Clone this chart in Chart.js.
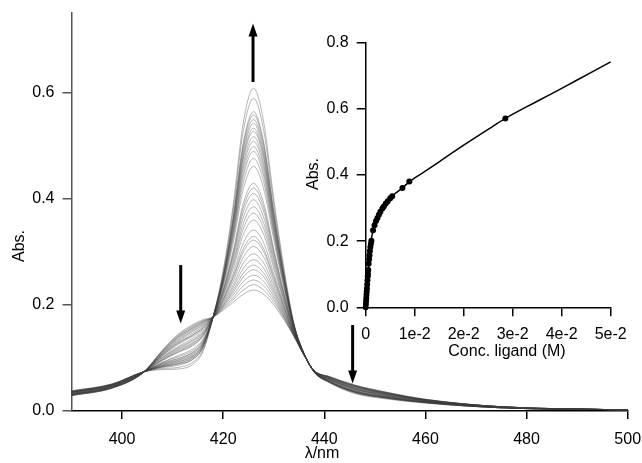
<!DOCTYPE html>
<html><head><meta charset="utf-8">
<script src="https://cdn.jsdelivr.net/npm/chart.js@4"></script>
<style>
html,body{margin:0;padding:0;background:#fff;}
#wrap{position:relative;width:642px;height:463px;}
canvas{position:absolute;left:0;top:0;}
</style>
</head><body>
<div id="wrap"><canvas id="main" width="642" height="463"></canvas><canvas id="inset" width="642" height="463"></canvas></div>
<script>
// ---- main spectra data ----
const wavelengths = [390, 398, 404, 408, 411, 414, 416, 418, 420, 422, 424, 426, 428, 430, 432, 434, 436, 438, 441, 446, 452, 460, 475, 500];
const spectra = [
[0.029,0.043,0.071,0.115,0.144,0.163,0.172,0.177,0.190,0.205,0.220,0.228,0.220,0.200,0.172,0.140,0.105,0.076,0.065,0.049,0.036,0.022,0.008,0.002],
[0.029,0.043,0.071,0.114,0.142,0.161,0.170,0.177,0.192,0.210,0.228,0.238,0.228,0.205,0.175,0.141,0.105,0.076,0.065,0.049,0.036,0.022,0.008,0.002],
[0.029,0.043,0.071,0.113,0.141,0.159,0.169,0.177,0.194,0.214,0.236,0.247,0.236,0.210,0.177,0.141,0.105,0.076,0.064,0.048,0.035,0.022,0.008,0.002],
[0.030,0.044,0.071,0.112,0.139,0.157,0.168,0.177,0.196,0.219,0.244,0.256,0.244,0.215,0.179,0.142,0.105,0.076,0.064,0.048,0.035,0.021,0.008,0.002],
[0.030,0.044,0.071,0.111,0.138,0.156,0.166,0.177,0.198,0.224,0.253,0.266,0.253,0.220,0.182,0.143,0.105,0.076,0.064,0.047,0.035,0.021,0.008,0.002],
[0.030,0.044,0.071,0.110,0.136,0.154,0.165,0.177,0.199,0.228,0.260,0.275,0.260,0.225,0.184,0.143,0.105,0.076,0.064,0.047,0.034,0.021,0.008,0.002],
[0.030,0.044,0.071,0.109,0.134,0.152,0.163,0.177,0.201,0.233,0.269,0.285,0.269,0.230,0.187,0.144,0.105,0.076,0.063,0.047,0.034,0.021,0.008,0.002],
[0.031,0.044,0.071,0.108,0.132,0.150,0.161,0.177,0.204,0.238,0.279,0.296,0.279,0.236,0.190,0.145,0.106,0.076,0.063,0.046,0.034,0.021,0.008,0.002],
[0.031,0.045,0.071,0.107,0.130,0.147,0.159,0.177,0.206,0.245,0.290,0.310,0.290,0.243,0.193,0.145,0.106,0.075,0.062,0.046,0.033,0.021,0.008,0.002],
[0.031,0.045,0.072,0.106,0.128,0.144,0.157,0.177,0.209,0.251,0.300,0.322,0.300,0.249,0.196,0.146,0.106,0.075,0.062,0.045,0.033,0.020,0.008,0.002],
[0.031,0.045,0.072,0.105,0.127,0.143,0.156,0.177,0.210,0.254,0.306,0.329,0.306,0.253,0.198,0.147,0.106,0.075,0.062,0.045,0.033,0.020,0.008,0.002],
[0.032,0.045,0.072,0.104,0.125,0.141,0.154,0.177,0.212,0.260,0.317,0.341,0.317,0.259,0.201,0.147,0.106,0.075,0.061,0.044,0.032,0.020,0.007,0.002],
[0.032,0.046,0.072,0.102,0.121,0.137,0.151,0.177,0.216,0.269,0.333,0.360,0.333,0.269,0.206,0.149,0.106,0.075,0.061,0.043,0.032,0.020,0.007,0.002],
[0.032,0.046,0.072,0.101,0.119,0.134,0.149,0.177,0.219,0.276,0.344,0.373,0.344,0.276,0.209,0.150,0.106,0.075,0.060,0.043,0.031,0.019,0.007,0.002],
[0.033,0.046,0.072,0.100,0.117,0.132,0.147,0.177,0.221,0.281,0.354,0.385,0.354,0.283,0.212,0.150,0.106,0.075,0.060,0.042,0.031,0.019,0.007,0.002],
[0.033,0.047,0.072,0.098,0.115,0.129,0.145,0.177,0.224,0.288,0.365,0.398,0.365,0.289,0.216,0.151,0.106,0.075,0.060,0.042,0.030,0.019,0.007,0.002],
[0.033,0.047,0.072,0.097,0.113,0.127,0.143,0.177,0.226,0.294,0.376,0.410,0.376,0.296,0.219,0.152,0.106,0.075,0.059,0.041,0.030,0.019,0.007,0.002],
[0.034,0.047,0.072,0.096,0.111,0.125,0.142,0.177,0.228,0.298,0.384,0.420,0.384,0.301,0.221,0.153,0.107,0.075,0.059,0.041,0.029,0.019,0.007,0.002],
[0.034,0.047,0.072,0.095,0.110,0.123,0.140,0.177,0.230,0.303,0.392,0.429,0.392,0.306,0.224,0.153,0.107,0.074,0.059,0.041,0.029,0.018,0.007,0.002],
[0.035,0.048,0.072,0.092,0.104,0.117,0.135,0.177,0.236,0.318,0.419,0.461,0.419,0.323,0.232,0.155,0.107,0.074,0.058,0.039,0.028,0.018,0.007,0.002],
[0.035,0.048,0.072,0.091,0.102,0.114,0.133,0.177,0.239,0.326,0.432,0.476,0.432,0.331,0.236,0.156,0.107,0.074,0.057,0.039,0.028,0.017,0.007,0.002],
[0.035,0.049,0.072,0.090,0.099,0.111,0.131,0.177,0.242,0.332,0.443,0.489,0.443,0.337,0.239,0.157,0.107,0.074,0.057,0.038,0.027,0.017,0.007,0.002],
[0.035,0.049,0.072,0.089,0.098,0.110,0.129,0.177,0.243,0.337,0.451,0.498,0.451,0.342,0.242,0.158,0.107,0.074,0.056,0.038,0.027,0.017,0.007,0.002],
[0.036,0.049,0.073,0.088,0.096,0.108,0.128,0.177,0.245,0.341,0.460,0.508,0.460,0.347,0.244,0.158,0.107,0.074,0.056,0.037,0.026,0.017,0.007,0.002],
[0.036,0.049,0.073,0.087,0.095,0.106,0.126,0.177,0.247,0.346,0.467,0.517,0.467,0.352,0.247,0.159,0.107,0.074,0.056,0.037,0.026,0.017,0.007,0.002],
[0.036,0.049,0.073,0.086,0.093,0.104,0.125,0.177,0.249,0.351,0.476,0.527,0.476,0.357,0.249,0.160,0.107,0.074,0.056,0.036,0.026,0.017,0.006,0.002],
[0.036,0.049,0.073,0.085,0.092,0.103,0.124,0.177,0.250,0.354,0.481,0.533,0.481,0.361,0.251,0.160,0.107,0.074,0.055,0.036,0.026,0.016,0.006,0.002],
[0.036,0.050,0.073,0.084,0.090,0.101,0.122,0.177,0.252,0.358,0.488,0.542,0.488,0.365,0.253,0.161,0.108,0.074,0.055,0.036,0.025,0.016,0.006,0.002],
[0.037,0.050,0.073,0.084,0.089,0.100,0.121,0.177,0.253,0.361,0.495,0.549,0.495,0.369,0.255,0.161,0.108,0.074,0.055,0.036,0.025,0.016,0.006,0.002],
[0.037,0.050,0.073,0.083,0.088,0.098,0.120,0.177,0.255,0.366,0.502,0.558,0.502,0.374,0.257,0.162,0.108,0.073,0.055,0.035,0.025,0.016,0.006,0.002],
[0.037,0.050,0.073,0.082,0.086,0.097,0.119,0.177,0.257,0.369,0.507,0.564,0.507,0.377,0.259,0.162,0.108,0.073,0.054,0.035,0.025,0.016,0.006,0.002],
[0.038,0.051,0.073,0.080,0.082,0.092,0.115,0.177,0.261,0.381,0.529,0.589,0.529,0.390,0.265,0.164,0.108,0.073,0.054,0.034,0.024,0.015,0.006,0.002],
[0.038,0.051,0.073,0.078,0.079,0.088,0.112,0.177,0.265,0.390,0.545,0.608,0.545,0.400,0.270,0.165,0.108,0.073,0.053,0.033,0.023,0.015,0.006,0.002]
];
const mainXTicks = [400, 420, 440, 460, 480, 500];
const mainYTicks = [0.0, 0.2, 0.4, 0.6];
// arrows: wavelength, from Abs, to Abs
const arrowWave = [425.9, 411.6, 445.6];
const arrowFrom = [0.62, 0.275, 0.162];
const arrowTo   = [0.73, 0.165, 0.052];

// ---- inset titration data ----
const concLigand = [0, 0.00004, 0.00008, 0.00012, 0.00016, 0.0002, 0.00025, 0.0003, 0.00036, 0.00042, 0.00046, 0.00052, 0.0006, 0.0007, 0.00078, 0.00086, 0.00096, 0.00106, 0.00116, 0.0015, 0.0018, 0.0021, 0.0024, 0.0027, 0.003, 0.0034, 0.0037, 0.0041, 0.0045, 0.005, 0.0054, 0.0075, 0.0089, 0.0285];
const deltaAbs = [0, 0.010, 0.019, 0.028, 0.038, 0.047, 0.057, 0.069, 0.082, 0.094, 0.101, 0.113, 0.132, 0.145, 0.157, 0.170, 0.182, 0.192, 0.201, 0.233, 0.248, 0.261, 0.270, 0.280, 0.289, 0.299, 0.305, 0.314, 0.321, 0.330, 0.336, 0.361, 0.380, 0.571];
const fitConc = [0, 0.0002, 0.0005, 0.001, 0.0015, 0.002, 0.003, 0.004, 0.005, 0.006, 0.0075, 0.009, 0.012, 0.015, 0.02, 0.025, 0.0285, 0.035, 0.04, 0.045, 0.05];
const fitAbs = [0, 0.047, 0.105, 0.19, 0.233, 0.256, 0.289, 0.312, 0.330, 0.344, 0.361, 0.381, 0.410, 0.440, 0.490, 0.538, 0.571, 0.623, 0.662, 0.702, 0.742];
const insetXTicks = [0, 0.01, 0.02, 0.03, 0.04, 0.05];
const insetXLabels = ["0", "1e-2", "2e-2", "3e-2", "4e-2", "5e-2"];
const insetYTicks = [0.0, 0.2, 0.4, 0.6, 0.8];

const FONT = "'Liberation Sans', Arial, sans-serif";
Chart.defaults.font.family = FONT;
Chart.defaults.font.size = 16;
Chart.defaults.color = '#000';

function setTicks(vals){ return function(s){ s.ticks = vals.map(v => ({value: v})); }; }
function fixSize(prop, val){ return function(s){ s[prop] = val; s.paddingLeft = 0; s.paddingRight = 0; s.paddingTop = 0; s.paddingBottom = 0; }; }

function titlesPlugin(id, items){
  return { id: id, afterDraw(chart){
    const ctx = chart.ctx; ctx.save();
    ctx.fillStyle = '#000'; ctx.font = '16px ' + FONT;
    ctx.textAlign = 'center'; ctx.textBaseline = 'middle';
    items.forEach(it => {
      ctx.save(); ctx.translate(it.x, it.y); if (it.rot) ctx.rotate(it.rot);
      ctx.fillText(it.text, 0, 0); ctx.restore();
    });
    ctx.restore();
  }};
}

const arrowPlugin = { id: 'arrows', afterDatasetsDraw(chart){
  const ctx = chart.ctx, xs = chart.scales.x, ys = chart.scales.y;
  ctx.save(); ctx.strokeStyle = '#000'; ctx.fillStyle = '#000'; ctx.lineWidth = 3;
  arrowWave.forEach((w, i) => {
    const x = xs.getPixelForValue(w);
    const y0 = ys.getPixelForValue(arrowFrom[i]);
    const y1 = ys.getPixelForValue(arrowTo[i]);
    const dir = y1 < y0 ? -1 : 1;
    ctx.beginPath(); ctx.moveTo(x, y0); ctx.lineTo(x, y1 - dir * 9); ctx.stroke();
    ctx.beginPath(); ctx.moveTo(x, y1); ctx.lineTo(x - 4.5, y1 - dir * 13); ctx.lineTo(x + 4.5, y1 - dir * 13); ctx.closePath(); ctx.fill();
  });
  ctx.restore();
}};

new Chart(document.getElementById('main'), {
  type: 'line',
  data: { datasets: spectra.map(s => ({
    data: wavelengths.map((w, i) => ({x: w, y: s[i]})),
    borderColor: 'rgba(60,60,60,0.5)', borderWidth: 0.75, pointRadius: 0,
    cubicInterpolationMode: 'monotone', fill: false
  })) },
  options: {
    responsive: false, animation: false, events: [],
    layout: { autoPadding: false, padding: { left: 0, right: 14.3, top: 13, bottom: 0 } },
    plugins: { legend: { display: false }, tooltip: { enabled: false } },
    scales: {
      x: { type: 'linear', min: 390, max: 500, afterBuildTicks: setTicks(mainXTicks),
        afterFit: fixSize('height', 52),
        grid: { display: true, drawOnChartArea: false, drawTicks: true, tickLength: 8, color: '#000', lineWidth: 1.5 },
        border: { display: true, color: '#000', width: 1.5 },
        ticks: { padding: 11, callback: v => String(v), maxRotation: 0 } },
      y: { type: 'linear', min: 0, max: 0.75, afterBuildTicks: setTicks(mainYTicks),
        afterFit: fixSize('width', 71.5),
        grid: { display: true, drawOnChartArea: false, drawTicks: true, tickLength: 9, color: '#555', lineWidth: 1.5 },
        border: { display: true, color: '#555', width: 1.5 },
        ticks: { padding: 8, callback: v => v.toFixed(1) } }
    }
  },
  plugins: [arrowPlugin, titlesPlugin('mainTitles', [
    { text: 'Abs.', x: 20, y: 246, rot: -Math.PI / 2 },
    { text: 'λ/nm', x: 322, y: 454 }
  ])]
});

new Chart(document.getElementById('inset'), {
  type: 'scatter',
  data: { datasets: [
    { data: fitConc.map((c, i) => ({x: c, y: fitAbs[i]})), showLine: true, borderColor: '#000', borderWidth: 1.5,
      pointRadius: 0, cubicInterpolationMode: 'monotone', clip: false },
    { data: concLigand.map((c, i) => ({x: c, y: deltaAbs[i]})), showLine: false, pointRadius: 3,
      pointBackgroundColor: '#000', pointBorderColor: '#000', pointBorderWidth: 0, clip: false }
  ] },
  options: {
    responsive: false, animation: false, events: [],
    layout: { autoPadding: false, padding: { left: 315.7, right: 31.3, top: 42.7, bottom: 115.7 } },
    plugins: { legend: { display: false }, tooltip: { enabled: false } },
    scales: {
      x: { type: 'linear', min: 0, max: 0.05, afterBuildTicks: setTicks(insetXTicks),
        afterFit: fixSize('height', 40),
        grid: { display: true, drawOnChartArea: false, drawTicks: true, tickLength: 9, color: '#000', lineWidth: 1.5 },
        border: { display: true, color: '#000', width: 1.5 },
        ticks: { padding: 9, maxRotation: 0, callback: (v) => insetXLabels[insetXTicks.indexOf(v)] } },
      y: { type: 'linear', min: 0, max: 0.8, afterBuildTicks: setTicks(insetYTicks),
        afterFit: fixSize('width', 50),
        grid: { display: true, drawOnChartArea: false, drawTicks: true, tickLength: 9, color: '#000', lineWidth: 1.5 },
        border: { display: true, color: '#000', width: 1.5 },
        ticks: { padding: 8, callback: v => v.toFixed(1) } }
    }
  },
  plugins: [titlesPlugin('insetTitles', [
    { text: 'Abs.', x: 314, y: 174, rot: -Math.PI / 2 },
    { text: 'Conc. ligand (M)', x: 507, y: 352 }
  ])]
});
</script>
</body></html>
